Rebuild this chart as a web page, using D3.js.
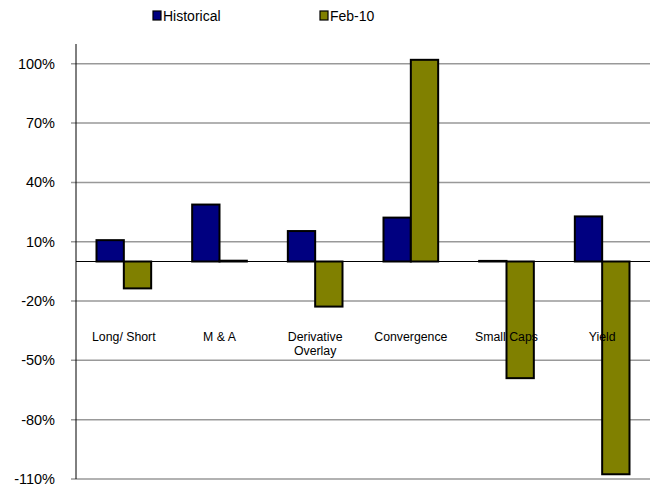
<!DOCTYPE html>
<html>
<head>
<meta charset="utf-8">
<script src="https://cdn.jsdelivr.net/npm/d3@7"></script>
<style>
  body { margin: 0; background: #fff; }
  svg { display: block; font-family: "Liberation Sans", Arial, sans-serif; }
</style>
</head>
<body>
<div id="chart"></div>
<script>
// data
const categories = ['Long/ Short', 'M & A', 'Derivative\nOverlay', 'Convergence', 'Small Caps', 'Yield']
const seriesNames = ['Historical', 'Feb-10']
const historical = [10.8, 28.8, 15.4, 22.2, 0.3, 22.8]
const feb10 = [-13.6, 0.4, -22.8, 102, -59, -107.6]
const tickValues = [100, 70, 40, 10, -20, -50, -80, -110]

const colors = ['#000080', '#808000']

const chart = {
  width: 654,
  height: 487,
  left: 76,
  right: 650,
  top: 44,
  bottom: 479
}

const svg = d3.select('#chart')
  .append('svg')
    .attr('width', chart.width)
    .attr('height', chart.height)

const xScale = d3.scaleBand()
  .domain(categories)
  .range([chart.left, chart.right])

const yScale = d3.scaleLinear()
  .domain([-110, 110])
  .range([chart.bottom, chart.top])

// gridlines
svg.append('g')
  .selectAll('line')
  .data(tickValues)
  .join('line')
    .attr('x1', chart.left - 5)
    .attr('x2', chart.right)
    .attr('y1', d => yScale(d))
    .attr('y2', d => yScale(d))
    .attr('stroke', '#999')
    .attr('stroke-width', 1.5)

// y tick labels
svg.append('g')
  .selectAll('text')
  .data(tickValues)
  .join('text')
    .attr('x', 55)
    .attr('y', d => yScale(d))
    .attr('dy', '0.35em')
    .attr('text-anchor', 'end')
    .attr('font-size', 14.5)
    .attr('fill', '#000')
    .text(d => d + '%')

// bars
const barW = xScale.bandwidth() / 3.5
const rows = categories.map((c, i) => [
  {cat: c, s: 0, v: historical[i]},
  {cat: c, s: 1, v: feb10[i]}
]).flat()

svg.append('g')
  .selectAll('rect')
  .data(rows)
  .join('rect')
    .attr('x', d => xScale(d.cat) + xScale.bandwidth() / 2 - barW + d.s * barW)
    .attr('y', d => yScale(Math.max(0, d.v)))
    .attr('width', barW)
    .attr('height', d => Math.abs(yScale(d.v) - yScale(0)))
    .attr('fill', d => colors[d.s])
    .attr('stroke', '#000')
    .attr('stroke-width', 2)

// zero line
svg.append('line')
  .attr('x1', chart.left)
  .attr('x2', chart.right)
  .attr('y1', yScale(0))
  .attr('y2', yScale(0))
  .attr('stroke', '#000')
  .attr('stroke-width', 1)

// y axis line
svg.append('line')
  .attr('x1', chart.left)
  .attr('x2', chart.left)
  .attr('y1', chart.top)
  .attr('y2', chart.bottom)
  .attr('stroke', '#000')
  .attr('stroke-width', 1)

// category labels
const catLabels = svg.append('g')
  .selectAll('text')
  .data(categories)
  .join('text')
    .attr('x', d => xScale(d) + xScale.bandwidth() / 2)
    .attr('y', 341)
    .attr('text-anchor', 'middle')
    .attr('font-size', 12.3)
    .attr('fill', '#000')

catLabels.selectAll('tspan')
  .data(d => d.split('\n'))
  .join('tspan')
    .attr('x', function () { return d3.select(this.parentNode).attr('x') })
    .attr('dy', (d, i) => i === 0 ? 0 : 14.3)
    .text(d => d)

// legend
const legendX = [153, 320]
const legend = svg.append('g')
  .selectAll('g')
  .data(seriesNames)
  .join('g')
    .attr('transform', (d, i) => `translate(${legendX[i]},11)`)

legend.append('rect')
  .attr('width', 8)
  .attr('height', 9)
  .attr('fill', (d, i) => colors[i])
  .attr('stroke', '#000')
  .attr('stroke-width', 1.2)

legend.append('text')
  .attr('x', 10)
  .attr('y', 10)
  .attr('font-size', 14)
  .attr('fill', '#000')
  .text(d => d)
</script>
</body>
</html>
